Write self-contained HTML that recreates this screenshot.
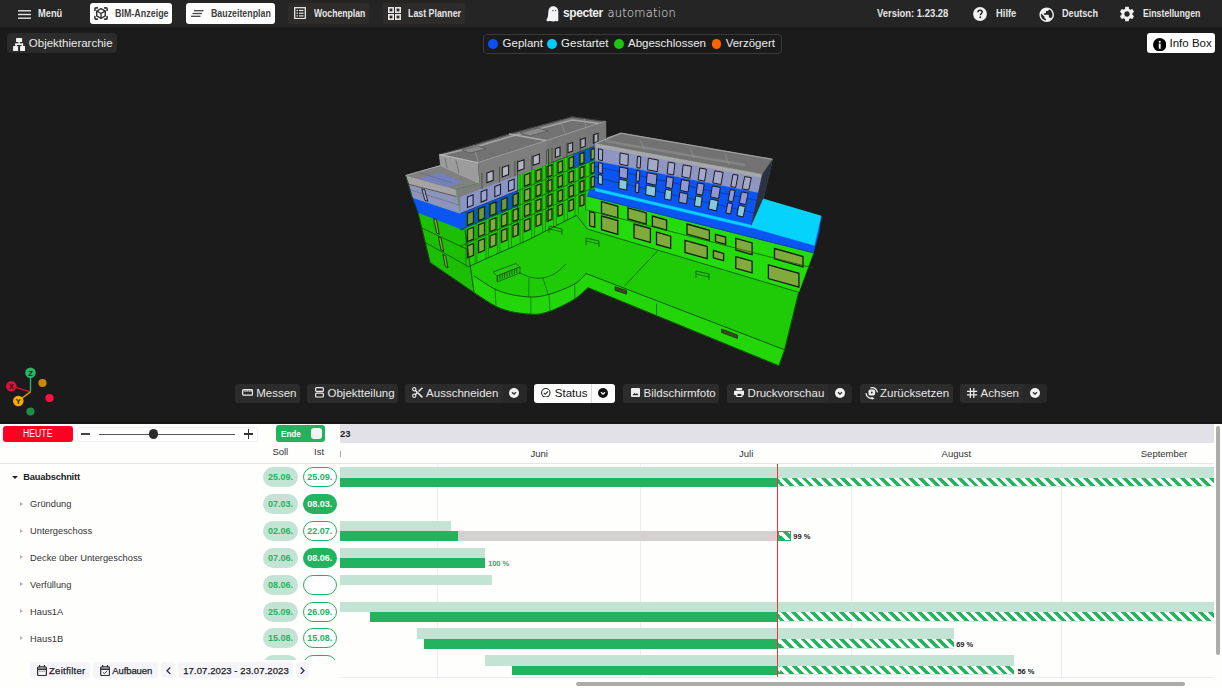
<!DOCTYPE html>
<html><head><meta charset="utf-8">
<style>
*{box-sizing:border-box;margin:0;padding:0}
html,body{width:1222px;height:688px;overflow:hidden;background:#1b1b1b;font-family:"Liberation Sans",Arial,sans-serif}
.a{position:absolute}
.t{position:absolute;white-space:nowrap;line-height:1}
#top{position:absolute;left:0;top:0;width:1222px;height:27px;background:#252525}
.tb{position:absolute;top:3px;height:20.5px;border-radius:3px}
.tb.w{background:#fff}
.tb.d{background:#2d2c2b}
.tt{font-size:10px;font-weight:bold;color:#e6e6e6;transform-origin:0 0}
.tb.w .tt{color:#404040}
.vb{position:absolute;top:384px;height:19px;border-radius:3px;background:#2c2c2c}
.vt{font-size:11.5px;color:#e8e8e8}
.dd{position:absolute;top:384px;height:19px;background:#282828;border-radius:0 3px 3px 0}
.ddc{position:absolute;width:10px;height:10px;border-radius:50%;background:#f2f2f2}
#gantt{position:absolute;left:0;top:423px;width:1222px;height:265px;background:#fefefd}
.pill{position:absolute;width:34.3px;height:20px;border-radius:10px;font-size:9px;font-weight:bold;text-align:center;line-height:20px}
.ps{background:#c3e4d5;color:#23b35f}
.po{background:#fff;border:1.3px solid #23b35f;color:#23b35f;line-height:18.8px}
.pf{background:#23b35f;color:#fff}
.lbl{position:absolute;font-size:9.3px;color:#333;white-space:nowrap;line-height:1}
.bl{position:absolute;height:10.5px;background:#c3e4d5}
.bd{position:absolute;height:9.7px;background:#23b35f}
.bs{position:absolute;height:9.7px;background:repeating-linear-gradient(45deg,#23b35f 0 3.43px,#fff 3.43px 6.86px);background-position:2.2px 0;border-bottom:1px solid #d4ece2}
.bg{position:absolute;height:9.7px;background:#d2d1d0}
.pct{position:absolute;font-size:7.5px;font-weight:bold;color:#222;line-height:1;white-space:nowrap}
.ml{font-size:9.5px;color:#333}
.bb{position:absolute;top:662.4px;height:15.6px;border-radius:3px;background:#f4f4fa}
.bt{font-size:9.5px;font-weight:normal;color:#222;-webkit-text-stroke:0.25px #222}
</style></head><body>

<!-- TOP BAR -->
<div id="top">
  <svg class="a" style="left:18px;top:9.5px" width="13" height="9" viewBox="0 0 13 9"><g stroke="#e6e6e6" stroke-width="1.4"><line x1="0" y1="0.8" x2="13" y2="0.8"/><line x1="0" y1="4.5" x2="13" y2="4.5"/><line x1="0" y1="8.2" x2="13" y2="8.2"/></g></svg>
  <div class="t tt" style="left:38px;top:8.9px;transform:scaleX(0.931)">Menü</div>

  <div class="tb w" style="left:89.5px;width:82.5px"></div>
  <svg class="a" style="left:94px;top:6.8px" width="14" height="13" viewBox="0 0 14 13" fill="none" stroke="#333" stroke-linecap="round" stroke-linejoin="round"><path d="M0.9 3.4V1.8Q0.9 0.9 1.8 0.9H3.4M10.6 0.9H12.2Q13.1 0.9 13.1 1.8V3.4M13.1 9.6V11.2Q13.1 12.1 12.2 12.1H10.6M3.4 12.1H1.8Q0.9 12.1 0.9 11.2V9.6" stroke-width="1.6"/><path d="M7 1.7L11.3 4.1V8.9L7 11.3L2.7 8.9V4.1Z" stroke-width="1.5"/><path d="M2.9 4.2L7 6.5L11.1 4.2M7 6.5V11" stroke-width="1.4"/></svg>
  <div class="t tt" style="left:115px;top:8.9px;transform:scaleX(0.893);color:#404040">BIM-Anzeige</div>

  <div class="tb w" style="left:185.7px;width:89px"></div>
  <svg class="a" style="left:191px;top:10px" width="13" height="7" viewBox="0 0 13 7" stroke="#444" stroke-width="1.3"><line x1="3" y1="0.7" x2="12.5" y2="0.7"/><line x1="1.5" y1="3.5" x2="11" y2="3.5"/><line x1="0" y1="6.3" x2="9.5" y2="6.3"/></svg>
  <div class="t tt" style="left:211px;top:8.9px;transform:scaleX(0.882);color:#404040">Bauzeitenplan</div>

  <div class="tb d" style="left:288.2px;width:80.6px"></div>
  <svg class="a" style="left:294px;top:7.2px" width="12" height="12.3" viewBox="0 0 12 12.3" fill="none" stroke="#e6e6e6" stroke-width="1.3"><rect x="0.7" y="0.7" width="10.6" height="10.9"/><g stroke-width="1.2"><line x1="2.5" y1="3.5" x2="4" y2="3.5"/><line x1="5" y1="3.5" x2="9.5" y2="3.5"/><line x1="2.5" y1="6.2" x2="4" y2="6.2"/><line x1="5" y1="6.2" x2="9.5" y2="6.2"/><line x1="2.5" y1="8.9" x2="4" y2="8.9"/><line x1="5" y1="8.9" x2="9.5" y2="8.9"/></g></svg>
  <div class="t tt" style="left:313.5px;top:8.9px;transform:scaleX(0.867)">Wochenplan</div>

  <div class="tb d" style="left:382.8px;width:81.8px"></div>
  <svg class="a" style="left:388px;top:7px" width="13" height="13" viewBox="0 0 13 13" fill="none" stroke="#e6e6e6" stroke-width="1.6"><rect x="0.8" y="0.8" width="4.4" height="4.4"/><rect x="7.8" y="0.8" width="4.4" height="4.4"/><rect x="0.8" y="7.8" width="4.4" height="4.4"/><rect x="7.8" y="7.8" width="4.4" height="4.4"/></svg>
  <div class="t tt" style="left:408px;top:8.9px;transform:scaleX(0.883)">Last Planner</div>

  <!-- logo -->
  <svg class="a" style="left:545.5px;top:5.5px" width="13" height="16" viewBox="0 0 13 16"><path d="M7.2 0.3C10.3 0.3 12.3 2.6 12.3 5.6V14.2C12.3 15 11.3 15.6 10.4 15.2C9.3 14.7 8.4 15.4 7.3 15.5C5.8 15.7 4.7 14.6 3.2 15.1C2 15.5 0.6 15.2 0.5 14.3C0.4 13.4 1.3 12.5 1.6 11.5C2.2 9.5 2.2 7 2.4 5.2C2.6 2.4 4.4 0.3 7.2 0.3Z" fill="#f4f4f6"/><circle cx="6.9" cy="4.6" r="0.7" fill="#333"/><circle cx="9.5" cy="4.6" r="0.7" fill="#333"/></svg>
  <div class="t" style="left:563px;top:7.2px;font-size:12px;font-weight:bold;color:#f0f0f0;letter-spacing:-0.4px">specter</div>
  <div class="t" style="left:607.6px;top:8.4px;font-size:11.5px;font-family:'DejaVu Sans',sans-serif;font-weight:200;color:#ececec;letter-spacing:0.22px">automation</div>

  <div class="t tt" style="left:876.5px;top:8.9px;transform:scaleX(0.943)">Version: 1.23.28</div>
  <svg class="a" style="left:973.4px;top:6.8px" width="14" height="14" viewBox="0 0 14 14"><circle cx="7" cy="7" r="6.9" fill="#f2f2f2"/><path d="M4.9 5.3C4.9 4 5.9 3.2 7.1 3.2C8.3 3.2 9.2 4 9.2 5.1C9.2 6.5 7.4 6.6 7.4 8.2" stroke="#232323" stroke-width="1.5" fill="none"/><circle cx="7.3" cy="10.3" r="0.95" fill="#232323"/></svg>
  <div class="t tt" style="left:996.3px;top:8.9px;transform:scaleX(0.938)">Hilfe</div>
  <svg class="a" style="left:1038px;top:5.5px" width="17.4" height="17.4" viewBox="0 0 24 24"><path fill="#f0f0f0" d="M12 2C6.48 2 2 6.48 2 12s4.48 10 10 10 10-4.48 10-10S17.52 2 12 2zm-1 17.93c-3.95-.49-7-3.85-7-7.93 0-.62.08-1.21.21-1.79L9 15v1c0 1.1.9 2 2 2v1.93zm6.9-2.54c-.26-.81-1-1.39-1.9-1.39h-1v-3c0-.55-.45-1-1-1H8v-2h2c.55 0 1-.45 1-1V7h2c1.1 0 2-.9 2-2v-.41c2.93 1.19 5 4.06 5 7.41 0 2.08-.8 3.97-2.1 5.39z"/></svg>
  <div class="t tt" style="left:1062.2px;top:8.9px;transform:scaleX(0.911)">Deutsch</div>
  <svg class="a" style="left:1118.2px;top:5.1px" width="18" height="18" viewBox="0 0 24 24"><path fill="#f0f0f0" d="M19.14 12.94c.04-.3.06-.61.06-.94 0-.32-.02-.64-.07-.94l2.03-1.58c.18-.14.23-.41.12-.61l-1.92-3.32c-.12-.22-.37-.29-.59-.22l-2.39.96c-.5-.38-1.03-.7-1.62-.94l-.36-2.54c-.04-.24-.24-.41-.48-.41h-3.84c-.24 0-.43.17-.47.41l-.36 2.54c-.59.24-1.13.57-1.62.94l-2.39-.96c-.22-.08-.47 0-.59.22L2.74 8.87c-.12.21-.08.47.12.61l2.03 1.58c-.05.3-.09.63-.09.94s.02.64.07.94l-2.03 1.58c-.18.14-.23.41-.12.61l1.92 3.32c.12.22.37.29.59.22l2.39-.96c.5.38 1.03.7 1.62.94l.36 2.54c.05.24.24.41.48.41h3.84c.24 0 .44-.17.47-.41l.36-2.54c.59-.24 1.13-.56 1.62-.94l2.39.96c.22.08.47 0 .59-.22l1.92-3.32c.12-.22.07-.47-.12-.61l-2.01-1.58zM12 15.6c-1.98 0-3.6-1.62-3.6-3.6s1.62-3.6 3.6-3.6 3.6 1.62 3.6 3.6-1.62 3.6-3.6 3.6z"/></svg>
  <div class="t tt" style="left:1143px;top:8.9px;transform:scaleX(0.875)">Einstellungen</div>
</div>

<!-- ROW 2 -->
<div class="a" style="left:7px;top:33.4px;width:110px;height:19.8px;background:#2b2b2b;border-radius:4px"></div>
<svg class="a" style="left:12.8px;top:37.8px" width="12.4" height="13.6" viewBox="0 0 12.4 13.6" fill="#f4f4f4"><rect x="3.05" y="0" width="6.1" height="4.05" rx="0.5"/><rect x="0.1" y="8.1" width="5" height="5.3" rx="0.5"/><rect x="7.1" y="8.1" width="5" height="5.3" rx="0.5"/><rect x="5.4" y="3.8" width="1.5" height="2"/><rect x="2.3" y="5.4" width="7.8" height="1.6"/><rect x="2.3" y="5.4" width="1.5" height="3"/><rect x="8.6" y="5.4" width="1.5" height="3"/></svg>
<div class="t" style="left:28.8px;top:38.2px;font-size:11.5px;color:#ececec">Objekthierarchie</div>

<div class="a" style="left:482.6px;top:33.5px;width:299px;height:20.5px;border:1px solid #3a3a3a;border-radius:4px"></div>
<div class="a" style="left:488.2px;top:39px;width:9.8px;height:9.8px;border-radius:50%;background:#0a50f5"></div>
<div class="t" style="left:502.6px;top:38.2px;font-size:11.5px;color:#ececec">Geplant</div>
<div class="a" style="left:547.1px;top:39px;width:9.8px;height:9.8px;border-radius:50%;background:#00cdfa"></div>
<div class="t" style="left:561.1px;top:38.2px;font-size:11.5px;color:#ececec">Gestartet</div>
<div class="a" style="left:614.1px;top:39px;width:9.8px;height:9.8px;border-radius:50%;background:#1ec410"></div>
<div class="t" style="left:628px;top:38.2px;font-size:11.5px;color:#ececec">Abgeschlossen</div>
<div class="a" style="left:711.5px;top:39px;width:9.8px;height:9.8px;border-radius:50%;background:#fb6400"></div>
<div class="t" style="left:725.7px;top:38.2px;font-size:11.5px;color:#ececec">Verzögert</div>

<div class="a" style="left:1147.2px;top:33.4px;width:68px;height:19.7px;background:#fff;border-radius:3px"></div>
<svg class="a" style="left:1152.6px;top:37.9px" width="13.4" height="13.4" viewBox="0 0 14 14"><circle cx="7" cy="7" r="7" fill="#000"/><rect x="6" y="5.8" width="2" height="5.4" fill="#fff"/><circle cx="7" cy="3.9" r="1.1" fill="#fff"/></svg>
<div class="t" style="left:1169.5px;top:38.3px;font-size:11.5px;color:#111">Info Box</div>

<!-- BUILDING placeholder -->
<svg id="bld" class="a" style="left:0;top:0" width="1222" height="423" viewBox="0 0 1222 423">
<defs><linearGradient id="bgc" gradientUnits="userSpaceOnUse" x1="0" y1="0" x2="0" y2="423"><stop offset="0.455" stop-color="#858585"/><stop offset="0.455" stop-color="#1fcc08"/></linearGradient></defs>
<polygon points="405.7,175.5 440.6,165.5 439.3,154.5 473.3,145.0 509.0,134.0 572.0,116.8 606.0,121.5 606.5,137.5 620.8,133.1 772.8,159.3 763.3,199.0 821.0,216.0 815.0,240.0 812.0,252.0 804.0,276.6 798.7,292.3 784.6,349.8 778.9,365.8 587.9,287.6 586.5,288.9 584.6,290.8 582.3,292.9 579.6,295.3 576.7,297.6 573.4,299.8 569.6,302.0 565.3,304.3 560.6,306.6 555.8,308.8 551.3,310.7 547.2,312.1 543.7,313.1 540.7,313.8 537.8,314.2 535.0,314.3 531.9,314.2 528.3,314.0 524.2,313.6 519.7,313.1 515.0,312.4 510.2,311.4 505.4,310.1 500.7,308.5 495.9,306.3 490.7,303.4 485.5,300.2 480.7,297.0 476.7,294.4 473.8,292.5 460.0,283.0 430.2,262.6 418.0,212.5 412.3,197.4 408.5,184.2" fill="url(#bgc)"/>
<polygon points="576.5,197.0 587.3,194.4 587.3,229.0 576.5,215.3" fill="#1fc809" stroke="#1fc809" stroke-width="0.6" stroke-linejoin="round"/>
<polygon points="465.2,230.5 474.0,292.5 474.0,276.0 470.0,266.0" fill="#1fc809" stroke="#1fc809" stroke-width="0.6" stroke-linejoin="round"/>
<polygon points="470.0,266.0 528.0,240.0 576.5,215.3 587.3,229.0 798.7,292.3 784.6,349.8 586.0,273.5 584.9,274.6 583.6,276.2 581.9,278.0 579.9,280.0 577.6,282.0 574.8,283.8 571.4,285.6 567.5,287.5 563.1,289.4 558.6,291.1 554.2,292.7 550.1,294.0 546.4,295.0 542.9,295.8 539.5,296.5 536.0,296.9 532.3,297.0 528.3,296.9 523.8,296.5 519.0,295.9 514.0,295.1 508.9,294.0 503.9,292.6 499.2,291.0 494.5,288.9 489.6,286.1 484.8,283.1 480.4,280.2 476.7,277.7 474.0,276.0" fill="#1ecb06" stroke="#1ecb06" stroke-width="0.6" stroke-linejoin="round"/>
<polygon points="474.0,276.0 476.7,277.7 480.4,280.2 484.8,283.1 489.6,286.1 494.5,288.9 499.2,291.0 503.9,292.6 508.9,294.0 514.0,295.1 519.0,295.9 523.8,296.5 528.3,296.9 532.3,297.0 536.0,296.9 539.5,296.5 542.9,295.8 546.4,295.0 550.1,294.0 554.2,292.7 558.6,291.1 563.1,289.4 567.5,287.5 571.4,285.6 574.8,283.8 577.6,282.0 579.9,280.0 581.9,278.0 583.6,276.2 584.9,274.6 586.0,273.5 784.6,349.8 778.9,365.8 587.9,287.6 586.5,288.9 584.6,290.8 582.3,292.9 579.6,295.3 576.7,297.6 573.4,299.8 569.6,302.0 565.3,304.3 560.6,306.6 555.8,308.8 551.3,310.7 547.2,312.1 543.7,313.1 540.7,313.8 537.8,314.2 535.0,314.3 531.9,314.2 528.3,314.0 524.2,313.6 519.7,313.1 515.0,312.4 510.2,311.4 505.4,310.1 500.7,308.5 495.9,306.3 490.7,303.4 485.5,300.2 480.7,297.0 476.7,294.4 473.8,292.5" fill="#22d60a" stroke="#22d60a" stroke-width="0.6" stroke-linejoin="round"/>
<polygon points="430.2,262.6 418.0,212.5 465.2,230.5 474.0,292.5 460.0,283.0" fill="#1dbf06" stroke="#1dbf06" stroke-width="0.6" stroke-linejoin="round"/>
<polygon points="412.3,197.4 460.5,213.5 465.2,230.5 418.0,212.5" fill="#0a55f3" stroke="#0a55f3" stroke-width="0.6" stroke-linejoin="round"/>
<polygon points="408.5,184.2 456.5,196.5 460.5,213.5 412.3,197.4" fill="#8e95bd" stroke="#8e95bd" stroke-width="0.6" stroke-linejoin="round"/>
<polygon points="405.7,175.5 456.2,189.7 456.5,196.5 408.5,184.2" fill="#a4a4a4" stroke="#a4a4a4" stroke-width="0.6" stroke-linejoin="round"/>
<polyline points="405.7,175.5 456.2,189.7" fill="none" stroke="#c0c0c0" stroke-width="1" stroke-opacity="1"/>
<polyline points="408.5,184.2 456.5,196.5" fill="none" stroke="#3a3a3a" stroke-width="0.7" stroke-opacity="1"/>
<polyline points="421.8,228.0 467.9,249.7" fill="none" stroke="#124008" stroke-width="0.7" stroke-opacity="1"/>
<polyline points="425.3,242.6 470.5,267.7" fill="none" stroke="#124008" stroke-width="0.7" stroke-opacity="1"/>
<polygon points="433.6,218.4 436.4,219.5 439.3,234.3 436.6,233.0" fill="#7fae3c" stroke="#14260c" stroke-width="0.9"/>
<polygon points="438.4,236.8 441.1,238.1 443.7,251.3 441.0,249.9" fill="#7fae3c" stroke="#14260c" stroke-width="0.9"/>
<polygon points="442.9,254.3 445.6,255.8 448.0,268.0 445.3,266.3" fill="#7fae3c" stroke="#14260c" stroke-width="0.9"/>
<polygon points="421.8,188.9 424.7,189.7 427.8,201.3 424.9,200.3" fill="#a3a9cc" stroke="#1a1a1a" stroke-width="0.9"/>
<polyline points="411.0,190.0 459.0,205.0" fill="none" stroke="#5a5a6a" stroke-width="0.5" stroke-opacity="1"/>
<polygon points="405.7,175.5 440.6,165.5 480.0,183.5 456.2,189.7" fill="#808080" stroke="#808080" stroke-width="0.6" stroke-linejoin="round"/>
<polygon points="420.0,178.5 440.0,173.0 462.0,182.5 447.0,186.5" fill="#7282c0" stroke="#7282c0" stroke-width="0.6" stroke-linejoin="round"/>
<polyline points="405.7,175.5 440.6,165.5 480.0,183.5" fill="none" stroke="#a8a8a8" stroke-width="1" stroke-opacity="1"/>
<polyline points="418.0,172.0 452.0,183.0" fill="none" stroke="#666" stroke-width="0.6" stroke-opacity="1"/>
<polygon points="439.3,154.5 478.5,163.0 480.0,183.5 440.6,165.5" fill="#9c9c9c" stroke="#9c9c9c" stroke-width="0.6" stroke-linejoin="round"/>
<polyline points="439.3,154.5 478.5,163.0 480.0,183.5" fill="none" stroke="#2e2e2e" stroke-width="0.9" stroke-opacity="1"/>
<polyline points="445.0,158.0 447.0,168.0" fill="none" stroke="#555" stroke-width="0.6" stroke-opacity="1"/>
<polyline points="456.0,160.5 459.0,173.0" fill="none" stroke="#555" stroke-width="0.6" stroke-opacity="1"/>
<polygon points="439.3,154.5 473.3,145.0 509.0,134.0 572.0,116.8 606.0,121.5 547.2,140.7 478.5,163.0" fill="#727272" stroke="#727272" stroke-width="0.6" stroke-linejoin="round"/>
<polyline points="439.3,154.5 473.3,145.0 509.0,134.0 572.0,116.8 606.0,121.5" fill="none" stroke="#2a2a2a" stroke-width="0.8" stroke-opacity="1"/>
<polyline points="441.0,155.0 473.5,147.5 509.0,137.0 572.0,120.0 603.0,124.0" fill="none" stroke="#b0b0b0" stroke-width="1.4" stroke-opacity="0.8"/>
<polyline points="606.0,121.5 547.2,140.7 478.5,163.0 439.3,154.5" fill="none" stroke="#bdbdbd" stroke-width="1.5" stroke-opacity="0.9"/>
<polyline points="509.0,134.0 547.2,140.7" fill="none" stroke="#b0b0b0" stroke-width="1.4" stroke-opacity="0.9"/>
<polyline points="478.5,164.2 547.2,141.9 606.0,122.7" fill="none" stroke="#2a2a2a" stroke-width="0.8" stroke-opacity="1"/>
<polyline points="456.2,189.7 480.0,183.5" fill="none" stroke="#2a2a2a" stroke-width="0.8" stroke-opacity="1"/>
<polyline points="473.3,145.0 478.5,163.0" fill="none" stroke="#9a9a9a" stroke-width="0.8" stroke-opacity="1"/>
<polygon points="520.0,133.0 538.0,128.0 548.0,131.0 530.0,136.0" fill="#8a8a8a" stroke="#444" stroke-width="0.5"/>
<polygon points="462.0,150.0 478.0,146.0 486.0,149.0 470.0,153.0" fill="#8a8a8a" stroke="#444" stroke-width="0.5"/>
<polyline points="560.0,121.0 565.0,133.0" fill="none" stroke="#999" stroke-width="0.6" stroke-opacity="1"/>
<polyline points="584.0,118.0 586.0,128.0" fill="none" stroke="#999" stroke-width="0.6" stroke-opacity="1"/>
<polygon points="480.0,173.7 606.5,128.2 606.5,205.0 587.0,205.0 576.5,215.3 528.0,240.0 470.0,266.0 465.2,230.5 460.5,213.5 456.2,189.7 480.0,183.5" fill="#21d20a" stroke="#21d20a" stroke-width="0.6" stroke-linejoin="round"/>
<polygon points="456.2,189.7 480.0,183.5 478.5,163.0 547.2,140.7 548.5,163.7 517.6,175.4 517.6,190.7 460.5,213.5" fill="#7e7e7e" stroke="#7e7e7e" stroke-width="0.6" stroke-linejoin="round"/>
<polygon points="460.5,197.1 517.6,175.4 517.6,190.7 460.5,213.5" fill="#8a94c6" stroke="#8a94c6" stroke-width="0.6" stroke-linejoin="round"/>
<polygon points="460.5,213.5 517.6,190.7 517.6,205.9 460.5,229.9" fill="#0a55f3" stroke="#0a55f3" stroke-width="0.6" stroke-linejoin="round"/>
<polygon points="547.2,140.7 606.0,121.5 606.5,141.6 548.5,163.7" fill="#787878" stroke="#787878" stroke-width="0.6" stroke-linejoin="round"/>
<polygon points="573.0,154.4 594.0,146.4 594.0,160.1 573.0,168.5" fill="#0a55f3" stroke="#0a55f3" stroke-width="0.6" stroke-linejoin="round"/>
<polygon points="486.9,173.1 493.2,170.8 493.2,180.3 486.9,182.6" fill="#b3b6c2" stroke="#1d1d1d" stroke-width="1.1"/>
<polygon points="502.3,167.5 508.6,165.3 508.6,174.5 502.3,176.9" fill="#b3b6c2" stroke="#1d1d1d" stroke-width="1.1"/>
<polygon points="517.7,162.0 524.0,159.7 524.0,168.7 517.7,171.1" fill="#b3b6c2" stroke="#1d1d1d" stroke-width="1.1"/>
<polygon points="533.1,156.4 539.4,154.1 539.4,163.0 533.1,165.3" fill="#b3b6c2" stroke="#1d1d1d" stroke-width="1.1"/>
<polygon points="555.4,148.7 560.0,147.1 560.0,155.7 555.4,157.4" fill="#a9acb9" stroke="#1d1d1d" stroke-width="1.1"/>
<polygon points="568.0,144.1 572.6,142.5 572.6,151.0 568.0,152.7" fill="#a9acb9" stroke="#1d1d1d" stroke-width="1.1"/>
<polygon points="580.7,139.5 585.3,137.9 585.3,146.2 580.7,147.9" fill="#a9acb9" stroke="#1d1d1d" stroke-width="1.1"/>
<polygon points="593.4,135.0 598.0,133.3 598.0,141.5 593.4,143.2" fill="#a9acb9" stroke="#1d1d1d" stroke-width="1.1"/>
<polyline points="482.0,173.0 482.0,188.9" fill="none" stroke="#3a3a3a" stroke-width="0.7" stroke-opacity="1"/>
<polyline points="499.5,166.7 499.5,182.3" fill="none" stroke="#3a3a3a" stroke-width="0.7" stroke-opacity="1"/>
<polyline points="514.9,161.1 514.9,176.4" fill="none" stroke="#3a3a3a" stroke-width="0.7" stroke-opacity="1"/>
<polyline points="531.7,155.1 531.7,170.1" fill="none" stroke="#3a3a3a" stroke-width="0.7" stroke-opacity="1"/>
<polyline points="546.4,149.8 546.4,164.5" fill="none" stroke="#3a3a3a" stroke-width="0.7" stroke-opacity="1"/>
<polyline points="552.0,147.8 552.0,162.4" fill="none" stroke="#3a3a3a" stroke-width="0.7" stroke-opacity="1"/>
<polyline points="566.9,142.4 566.9,156.7" fill="none" stroke="#3a3a3a" stroke-width="0.7" stroke-opacity="1"/>
<polyline points="580.1,137.7 580.1,151.7" fill="none" stroke="#3a3a3a" stroke-width="0.7" stroke-opacity="1"/>
<polyline points="594.5,132.5 594.5,146.2" fill="none" stroke="#3a3a3a" stroke-width="0.7" stroke-opacity="1"/>
<polygon points="467.4,196.9 473.1,194.8 473.1,205.2 467.4,207.5" fill="#9aa3d4" stroke="#1d1d1d" stroke-width="1.1"/>
<polygon points="481.1,191.7 486.8,189.5 486.8,199.8 481.1,202.1" fill="#9aa3d4" stroke="#1d1d1d" stroke-width="1.1"/>
<polygon points="494.8,186.4 500.5,184.3 500.5,194.4 494.8,196.7" fill="#9aa3d4" stroke="#1d1d1d" stroke-width="1.1"/>
<polygon points="508.5,181.2 514.2,179.0 514.2,189.0 508.5,191.2" fill="#9aa3d4" stroke="#1d1d1d" stroke-width="1.1"/>
<polyline points="460.5,246.3 606.5,182.0" fill="none" stroke="#124a08" stroke-width="0.7" stroke-opacity="1"/>
<polyline points="460.5,229.9 606.5,168.6" fill="none" stroke="#124a08" stroke-width="0.7" stroke-opacity="1"/>
<polyline points="517.6,190.7 606.5,155.1" fill="none" stroke="#124a08" stroke-width="0.7" stroke-opacity="1"/>
<polyline points="548.5,163.7 606.5,141.6" fill="none" stroke="#124a08" stroke-width="0.7" stroke-opacity="1"/>
<polyline points="460.5,213.5 517.6,190.7" fill="none" stroke="#0a2a70" stroke-width="0.6" stroke-opacity="1"/>
<polygon points="467.5,245.8 473.5,243.4 473.5,255.4 467.5,257.8" fill="#7fae3c" stroke="#14260c" stroke-width="1.3"/>
<polygon points="467.5,229.5 473.5,227.1 473.5,239.2 467.5,241.6" fill="#7fae3c" stroke="#14260c" stroke-width="1.3"/>
<polygon points="467.5,213.3 473.5,210.9 473.5,222.9 467.5,225.3" fill="#6f9a3a" stroke="#14260c" stroke-width="1.3"/>
<polygon points="478.5,240.9 484.5,238.5 484.5,250.4 478.5,252.8" fill="#7fae3c" stroke="#14260c" stroke-width="1.3"/>
<polygon points="478.5,224.9 484.5,222.5 484.5,234.4 478.5,236.8" fill="#7fae3c" stroke="#14260c" stroke-width="1.3"/>
<polygon points="478.5,208.9 484.5,206.5 484.5,218.3 478.5,220.7" fill="#6f9a3a" stroke="#14260c" stroke-width="1.3"/>
<polygon points="490.0,235.8 496.0,233.4 496.0,245.1 490.0,247.5" fill="#7fae3c" stroke="#14260c" stroke-width="1.3"/>
<polygon points="490.0,220.0 496.0,217.6 496.0,229.3 490.0,231.7" fill="#7fae3c" stroke="#14260c" stroke-width="1.3"/>
<polygon points="490.0,204.2 496.0,201.8 496.0,213.5 490.0,215.9" fill="#6f9a3a" stroke="#14260c" stroke-width="1.3"/>
<polygon points="501.5,230.7 507.0,228.5 507.0,240.1 501.5,242.3" fill="#7fae3c" stroke="#14260c" stroke-width="1.3"/>
<polygon points="501.5,215.2 507.0,213.0 507.0,224.5 501.5,226.7" fill="#7fae3c" stroke="#14260c" stroke-width="1.3"/>
<polygon points="501.5,199.6 507.0,197.4 507.0,208.9 501.5,211.1" fill="#6f9a3a" stroke="#14260c" stroke-width="1.3"/>
<polygon points="513.0,225.6 518.5,223.4 518.5,234.8 513.0,237.0" fill="#7fae3c" stroke="#14260c" stroke-width="1.3"/>
<polygon points="513.0,210.3 518.5,208.1 518.5,219.4 513.0,221.6" fill="#7fae3c" stroke="#14260c" stroke-width="1.3"/>
<polygon points="513.0,195.0 518.5,192.8 518.5,204.1 513.0,206.3" fill="#6f9a3a" stroke="#14260c" stroke-width="1.3"/>
<polygon points="524.5,220.5 530.0,218.3 530.0,229.5 524.5,231.7" fill="#7fae3c" stroke="#14260c" stroke-width="1.3"/>
<polygon points="524.5,205.4 530.0,203.2 530.0,214.4 524.5,216.6" fill="#7fae3c" stroke="#14260c" stroke-width="1.3"/>
<polygon points="524.5,190.3 530.0,188.1 530.0,199.3 524.5,201.5" fill="#7fae3c" stroke="#14260c" stroke-width="1.3"/>
<polygon points="524.5,175.2 530.0,173.0 530.0,184.2 524.5,186.4" fill="#7fae3c" stroke="#14260c" stroke-width="1.3"/>
<polygon points="536.0,215.4 541.0,213.4 541.0,224.5 536.0,226.5" fill="#7fae3c" stroke="#14260c" stroke-width="1.3"/>
<polygon points="536.0,200.6 541.0,198.6 541.0,209.6 536.0,211.6" fill="#7fae3c" stroke="#14260c" stroke-width="1.3"/>
<polygon points="536.0,185.7 541.0,183.7 541.0,194.7 536.0,196.7" fill="#7fae3c" stroke="#14260c" stroke-width="1.3"/>
<polygon points="536.0,170.8 541.0,168.8 541.0,179.8 536.0,181.8" fill="#7fae3c" stroke="#14260c" stroke-width="1.3"/>
<polygon points="547.0,210.6 552.0,208.6 552.0,219.4 547.0,221.4" fill="#7fae3c" stroke="#14260c" stroke-width="1.3"/>
<polygon points="547.0,195.9 552.0,193.9 552.0,204.8 547.0,206.8" fill="#7fae3c" stroke="#14260c" stroke-width="1.3"/>
<polygon points="547.0,181.2 552.0,179.2 552.0,190.1 547.0,192.1" fill="#7fae3c" stroke="#14260c" stroke-width="1.3"/>
<polygon points="547.0,166.6 552.0,164.6 552.0,175.4 547.0,177.4" fill="#7fae3c" stroke="#14260c" stroke-width="1.3"/>
<polygon points="558.0,205.7 562.5,203.9 562.5,214.6 558.0,216.4" fill="#7fae3c" stroke="#14260c" stroke-width="1.3"/>
<polygon points="558.0,191.3 562.5,189.5 562.5,200.1 558.0,201.9" fill="#7fae3c" stroke="#14260c" stroke-width="1.3"/>
<polygon points="558.0,176.8 562.5,175.0 562.5,185.7 558.0,187.5" fill="#7fae3c" stroke="#14260c" stroke-width="1.3"/>
<polygon points="558.0,162.4 562.5,160.6 562.5,171.3 558.0,173.1" fill="#7fae3c" stroke="#14260c" stroke-width="1.3"/>
<polygon points="569.0,200.8 573.5,199.0 573.5,209.5 569.0,211.3" fill="#7fae3c" stroke="#14260c" stroke-width="1.3"/>
<polygon points="569.0,186.6 573.5,184.8 573.5,195.3 569.0,197.1" fill="#7fae3c" stroke="#14260c" stroke-width="1.3"/>
<polygon points="569.0,172.4 573.5,170.6 573.5,181.1 569.0,182.9" fill="#7fae3c" stroke="#14260c" stroke-width="1.3"/>
<polygon points="569.0,158.2 573.5,156.4 573.5,166.9 569.0,168.7" fill="#7fae3c" stroke="#14260c" stroke-width="1.3"/>
<polygon points="580.0,195.9 584.0,194.3 584.0,204.7 580.0,206.3" fill="#7fae3c" stroke="#14260c" stroke-width="1.3"/>
<polygon points="580.0,181.9 584.0,180.3 584.0,190.7 580.0,192.3" fill="#7fae3c" stroke="#14260c" stroke-width="1.3"/>
<polygon points="580.0,167.9 584.0,166.3 584.0,176.7 580.0,178.3" fill="#7fae3c" stroke="#14260c" stroke-width="1.3"/>
<polygon points="580.0,153.9 584.0,152.3 584.0,162.7 580.0,164.3" fill="#7fae3c" stroke="#14260c" stroke-width="1.3"/>
<polygon points="591.0,191.1 594.5,189.7 594.5,199.9 591.0,201.3" fill="#7fae3c" stroke="#14260c" stroke-width="1.3"/>
<polygon points="591.0,177.3 594.5,175.9 594.5,186.1 591.0,187.5" fill="#7fae3c" stroke="#14260c" stroke-width="1.3"/>
<polygon points="591.0,163.5 594.5,162.1 594.5,172.3 591.0,173.7" fill="#7fae3c" stroke="#14260c" stroke-width="1.3"/>
<polygon points="591.0,149.7 594.5,148.3 594.5,158.5 591.0,159.9" fill="#7fae3c" stroke="#14260c" stroke-width="1.3"/>
<polygon points="600.0,187.1 603.0,185.9 603.0,195.9 600.0,197.1" fill="#7fae3c" stroke="#14260c" stroke-width="1.3"/>
<polygon points="600.0,173.5 603.0,172.3 603.0,182.3 600.0,183.5" fill="#7fae3c" stroke="#14260c" stroke-width="1.3"/>
<polygon points="600.0,159.9 603.0,158.7 603.0,168.7 600.0,169.9" fill="#7fae3c" stroke="#14260c" stroke-width="1.3"/>
<polygon points="600.0,146.3 603.0,145.1 603.0,155.1 600.0,156.3" fill="#7fae3c" stroke="#14260c" stroke-width="1.3"/>
<polyline points="465.9,211.3 465.9,267.8" fill="none" stroke="#156a0a" stroke-width="0.6" stroke-opacity="1"/>
<polyline points="475.1,207.7 475.1,263.7" fill="none" stroke="#156a0a" stroke-width="0.6" stroke-opacity="1"/>
<polyline points="476.9,206.9 476.9,262.9" fill="none" stroke="#156a0a" stroke-width="0.6" stroke-opacity="1"/>
<polyline points="486.1,203.3 486.1,258.8" fill="none" stroke="#156a0a" stroke-width="0.6" stroke-opacity="1"/>
<polyline points="488.4,202.3 488.4,257.8" fill="none" stroke="#156a0a" stroke-width="0.6" stroke-opacity="1"/>
<polyline points="497.6,198.7 497.6,253.6" fill="none" stroke="#156a0a" stroke-width="0.6" stroke-opacity="1"/>
<polyline points="499.9,197.7 499.9,252.6" fill="none" stroke="#156a0a" stroke-width="0.6" stroke-opacity="1"/>
<polyline points="508.6,194.3 508.6,248.7" fill="none" stroke="#156a0a" stroke-width="0.6" stroke-opacity="1"/>
<polyline points="511.4,193.1 511.4,247.4" fill="none" stroke="#156a0a" stroke-width="0.6" stroke-opacity="1"/>
<polyline points="520.1,174.5 520.1,243.5" fill="none" stroke="#156a0a" stroke-width="0.6" stroke-opacity="1"/>
<polyline points="522.9,173.4 522.9,242.3" fill="none" stroke="#156a0a" stroke-width="0.6" stroke-opacity="1"/>
<polyline points="531.6,170.1 531.6,238.2" fill="none" stroke="#156a0a" stroke-width="0.6" stroke-opacity="1"/>
<polyline points="534.4,169.0 534.4,236.7" fill="none" stroke="#156a0a" stroke-width="0.6" stroke-opacity="1"/>
<polyline points="542.6,165.9 542.6,232.6" fill="none" stroke="#156a0a" stroke-width="0.6" stroke-opacity="1"/>
<polyline points="545.4,164.8 545.4,231.1" fill="none" stroke="#156a0a" stroke-width="0.6" stroke-opacity="1"/>
<polyline points="553.6,161.7 553.6,227.0" fill="none" stroke="#156a0a" stroke-width="0.6" stroke-opacity="1"/>
<polyline points="556.4,160.7 556.4,225.5" fill="none" stroke="#156a0a" stroke-width="0.6" stroke-opacity="1"/>
<polyline points="564.1,157.7 564.1,221.6" fill="none" stroke="#156a0a" stroke-width="0.6" stroke-opacity="1"/>
<polyline points="567.4,156.5 567.4,219.9" fill="none" stroke="#156a0a" stroke-width="0.6" stroke-opacity="1"/>
<polyline points="575.1,153.6 575.1,216.0" fill="none" stroke="#156a0a" stroke-width="0.6" stroke-opacity="1"/>
<polyline points="578.4,152.3 578.4,214.3" fill="none" stroke="#156a0a" stroke-width="0.6" stroke-opacity="1"/>
<polyline points="585.6,149.6 585.6,210.7" fill="none" stroke="#156a0a" stroke-width="0.6" stroke-opacity="1"/>
<polyline points="589.4,148.1 589.4,208.7" fill="none" stroke="#156a0a" stroke-width="0.6" stroke-opacity="1"/>
<polyline points="596.1,145.6 596.1,205.3" fill="none" stroke="#156a0a" stroke-width="0.6" stroke-opacity="1"/>
<polyline points="598.4,144.7 598.4,204.1" fill="none" stroke="#156a0a" stroke-width="0.6" stroke-opacity="1"/>
<polyline points="517.6,160.2 517.6,236.0" fill="none" stroke="#143a0a" stroke-width="0.7" stroke-opacity="1"/>
<polyline points="548.5,149.0 548.5,222.0" fill="none" stroke="#143a0a" stroke-width="0.8" stroke-opacity="1"/>
<polyline points="606.5,121.5 606.5,200.0" fill="none" stroke="#222" stroke-width="0.8" stroke-opacity="1"/>
<polygon points="587.3,194.4 813.4,252.8 798.7,292.3 587.3,229.0" fill="#24dc0c" stroke="#24dc0c" stroke-width="0.6" stroke-linejoin="round"/>
<polygon points="601.5,201.7 617.8,206.3 617.8,218.0 601.5,213.4" fill="#80aa3c" stroke="#1a1a1a" stroke-width="1.3"/>
<polygon points="628.0,207.8 646.3,212.9 646.3,224.1 628.0,219.0" fill="#80aa3c" stroke="#1a1a1a" stroke-width="1.3"/>
<polygon points="652.4,216.0 666.6,220.0 666.6,230.2 652.4,226.2" fill="#80aa3c" stroke="#1a1a1a" stroke-width="1.3"/>
<polygon points="687.0,224.0 709.4,230.3 709.4,240.4 687.0,234.1" fill="#80aa3c" stroke="#1a1a1a" stroke-width="1.3"/>
<polygon points="715.5,234.3 725.6,237.1 725.6,244.4 715.5,241.6" fill="#80aa3c" stroke="#1a1a1a" stroke-width="1.3"/>
<polygon points="735.8,238.3 752.1,242.9 752.1,254.6 735.8,250.0" fill="#80aa3c" stroke="#1a1a1a" stroke-width="1.3"/>
<polygon points="774.5,248.5 803.0,256.5 803.0,266.8 774.5,258.8" fill="#80aa3c" stroke="#1a1a1a" stroke-width="1.3"/>
<polygon points="601.5,216.0 617.8,220.6 617.8,234.3 601.5,229.7" fill="#80aa3c" stroke="#1a1a1a" stroke-width="1.3"/>
<polygon points="634.0,224.0 650.4,228.6 650.4,242.4 634.0,237.8" fill="#80aa3c" stroke="#1a1a1a" stroke-width="1.3"/>
<polygon points="656.5,232.2 670.7,236.2 670.7,248.5 656.5,244.5" fill="#80aa3c" stroke="#1a1a1a" stroke-width="1.3"/>
<polygon points="685.0,240.4 707.3,246.6 707.3,258.7 685.0,252.5" fill="#80aa3c" stroke="#1a1a1a" stroke-width="1.3"/>
<polygon points="713.4,250.5 723.6,253.4 723.6,260.7 713.4,257.8" fill="#80aa3c" stroke="#1a1a1a" stroke-width="1.3"/>
<polygon points="735.8,256.6 752.1,261.2 752.1,272.9 735.8,268.3" fill="#80aa3c" stroke="#1a1a1a" stroke-width="1.3"/>
<polygon points="768.4,264.8 798.9,273.3 798.9,287.1 768.4,278.6" fill="#80aa3c" stroke="#1a1a1a" stroke-width="1.3"/>
<polygon points="589.6,211.5 594.7,212.9 594.7,227.2 589.6,225.8" fill="#80aa3c" stroke="#1a1a1a" stroke-width="1.3"/>
<polyline points="587.3,210.0 813.0,268.0" fill="none" stroke="#155a08" stroke-width="0.8" stroke-opacity="1"/>
<polygon points="590.0,189.4 751.0,226.4 814.3,245.3 821.0,216.0 819.0,232.0 813.4,252.8 587.3,196.0" fill="#0a55f3" stroke="#0a55f3" stroke-width="0.6" stroke-linejoin="round"/>
<polyline points="587.3,196.0 813.4,252.8" fill="none" stroke="#0a2a80" stroke-width="0.6" stroke-opacity="1"/>
<polygon points="595.2,143.6 762.4,174.4 751.0,226.4 595.2,189.4" fill="#0a55f3" stroke="#0a55f3" stroke-width="0.6" stroke-linejoin="round"/>
<polygon points="595.2,146.2 762.4,176.5 758.6,192.4 595.2,160.6" fill="#8f96c2" stroke="#8f96c2" stroke-width="0.6" stroke-linejoin="round"/>
<polygon points="595.2,143.6 620.8,133.1 772.8,159.3 762.4,174.4" fill="#727272" stroke="#727272" stroke-width="0.6" stroke-linejoin="round"/>
<polyline points="595.2,143.6 620.8,133.1 772.8,159.3" fill="none" stroke="#a8a8a8" stroke-width="1.2" stroke-opacity="0.85"/>
<polyline points="605.0,141.0 745.0,165.0" fill="none" stroke="#8c8c8c" stroke-width="2.5" stroke-opacity="0.7"/>
<polyline points="640.0,140.0 645.0,150.0" fill="none" stroke="#999" stroke-width="0.6" stroke-opacity="1"/>
<polyline points="690.0,148.0 694.0,158.0" fill="none" stroke="#999" stroke-width="0.6" stroke-opacity="1"/>
<polyline points="725.0,154.0 729.0,165.0" fill="none" stroke="#999" stroke-width="0.6" stroke-opacity="1"/>
<polygon points="595.2,143.6 762.4,174.4 762.4,177.5 595.2,146.8" fill="#a8a8a8" stroke="#a8a8a8" stroke-width="0.6" stroke-linejoin="round"/>
<polyline points="595.2,166.5 756.7,200.4" fill="none" stroke="#0a2a80" stroke-width="0.6" stroke-opacity="1"/>
<polyline points="595.2,177.5 754.0,212.9" fill="none" stroke="#0a2a80" stroke-width="0.6" stroke-opacity="1"/>
<polygon points="772.8,159.3 762.4,174.4 751.0,226.4 763.3,199.0" fill="#2b3142" stroke="#2b3142" stroke-width="0.6" stroke-linejoin="round"/>
<polygon points="595.2,188.2 751.0,225.2 751.0,227.8 595.2,190.8" fill="#05d3fc" stroke="#05d3fc" stroke-width="0.6" stroke-linejoin="round"/>
<polygon points="763.3,199.0 821.0,216.0 814.3,245.3 751.0,227.3" fill="#05d3fc" stroke="#05d3fc" stroke-width="0.6" stroke-linejoin="round"/>
<polygon points="598.5,148.8 602.7,149.6 602.5,160.7 598.5,159.8" fill="#a4a8c8" stroke="#1a1a1a" stroke-width="1"/>
<polygon points="598.5,162.6 602.5,163.4 602.4,173.6 598.4,172.7" fill="#8d97d0" stroke="#1a1a1a" stroke-width="1"/>
<polygon points="598.4,174.5 602.4,175.4 602.3,184.6 598.3,183.7" fill="#86c9d9" stroke="#1a1a1a" stroke-width="1"/>
<polygon points="620.1,152.9 628.4,154.5 627.9,165.8 619.7,164.1" fill="#a4a8c8" stroke="#1a1a1a" stroke-width="1"/>
<polygon points="619.6,166.9 627.7,168.6 627.2,178.9 619.2,177.2" fill="#8d97d0" stroke="#1a1a1a" stroke-width="1"/>
<polygon points="619.2,179.1 627.1,180.8 626.7,190.2 618.8,188.4" fill="#86c9d9" stroke="#1a1a1a" stroke-width="1"/>
<polygon points="637.5,156.2 640.9,156.8 640.1,168.2 636.8,167.6" fill="#a4a8c8" stroke="#1a1a1a" stroke-width="1"/>
<polygon points="636.7,170.4 639.9,171.1 639.2,181.5 636.0,180.8" fill="#8d97d0" stroke="#1a1a1a" stroke-width="1"/>
<polygon points="635.9,182.7 639.1,183.4 638.5,192.9 635.3,192.2" fill="#8d97d0" stroke="#1a1a1a" stroke-width="1"/>
<polygon points="648.3,158.2 658.3,160.1 657.3,171.7 647.5,169.7" fill="#a4a8c8" stroke="#1a1a1a" stroke-width="1"/>
<polygon points="647.2,172.6 657.0,174.6 656.1,185.2 646.4,183.1" fill="#8d97d0" stroke="#1a1a1a" stroke-width="1"/>
<polygon points="646.3,185.0 655.9,187.1 655.0,196.7 645.6,194.6" fill="#86c9d9" stroke="#1a1a1a" stroke-width="1"/>
<polygon points="668.3,162.0 674.9,163.3 673.6,175.0 667.1,173.7" fill="#a4a8c8" stroke="#1a1a1a" stroke-width="1"/>
<polygon points="666.8,176.6 673.3,177.9 672.1,188.6 665.7,187.2" fill="#8d97d0" stroke="#1a1a1a" stroke-width="1"/>
<polygon points="665.5,189.2 671.8,190.6 670.8,200.3 664.5,198.9" fill="#86c9d9" stroke="#1a1a1a" stroke-width="1"/>
<polygon points="683.2,164.8 691.5,166.4 689.9,178.3 681.8,176.6" fill="#a4a8c8" stroke="#1a1a1a" stroke-width="1"/>
<polygon points="681.4,179.6 689.5,181.2 688.1,192.1 680.1,190.4" fill="#8d97d0" stroke="#1a1a1a" stroke-width="1"/>
<polygon points="679.8,192.3 687.8,194.1 686.5,203.9 678.6,202.1" fill="#8d97d0" stroke="#1a1a1a" stroke-width="1"/>
<polygon points="699.8,168.0 706.5,169.2 704.6,181.2 698.1,179.9" fill="#a4a8c8" stroke="#1a1a1a" stroke-width="1"/>
<polygon points="697.7,182.9 704.2,184.2 702.5,195.2 696.1,193.8" fill="#8d97d0" stroke="#1a1a1a" stroke-width="1"/>
<polygon points="695.8,195.8 702.2,197.2 700.7,207.2 694.4,205.8" fill="#86c9d9" stroke="#1a1a1a" stroke-width="1"/>
<polygon points="714.8,170.8 723.1,172.4 721.0,184.5 712.8,182.9" fill="#a4a8c8" stroke="#1a1a1a" stroke-width="1"/>
<polygon points="712.3,185.9 720.4,187.5 718.5,198.7 710.5,196.9" fill="#8d97d0" stroke="#1a1a1a" stroke-width="1"/>
<polygon points="710.2,199.0 718.2,200.7 716.4,210.8 708.5,209.0" fill="#86c9d9" stroke="#1a1a1a" stroke-width="1"/>
<polygon points="733.0,174.3 738.0,175.2 735.7,187.5 730.8,186.5" fill="#a4a8c8" stroke="#1a1a1a" stroke-width="1"/>
<polygon points="730.2,189.5 735.1,190.5 732.9,201.8 728.1,200.8" fill="#8d97d0" stroke="#1a1a1a" stroke-width="1"/>
<polygon points="727.7,202.8 732.5,203.8 730.6,214.1 725.8,213.0" fill="#8d97d0" stroke="#1a1a1a" stroke-width="1"/>
<polygon points="744.7,176.5 751.3,177.7 748.7,190.1 742.2,188.8" fill="#a4a8c8" stroke="#1a1a1a" stroke-width="1"/>
<polygon points="741.6,191.9 748.1,193.2 745.7,204.6 739.3,203.2" fill="#8d97d0" stroke="#1a1a1a" stroke-width="1"/>
<polygon points="738.9,205.2 745.3,206.6 743.2,217.0 736.9,215.5" fill="#86c9d9" stroke="#1a1a1a" stroke-width="1"/>
<polyline points="405.7,175.5 408.5,184.2 412.3,197.4 418.0,212.5 430.2,262.6 460.0,283.0 473.8,292.5" fill="none" stroke="#0e2e06" stroke-width="0.8" stroke-opacity="1"/>
<polyline points="473.8,292.5 476.7,294.4 480.7,297.0 485.5,300.2 490.7,303.4 495.9,306.3 500.7,308.5 505.4,310.1 510.2,311.4 515.0,312.4 519.7,313.1 524.2,313.6 528.3,314.0 531.9,314.2 535.0,314.3 537.8,314.2 540.7,313.8 543.7,313.1 547.2,312.1 551.3,310.7 555.8,308.8 560.6,306.6 565.3,304.3 569.6,302.0 573.4,299.8 576.7,297.6 579.6,295.3 582.3,292.9 584.6,290.8 586.5,288.9 587.9,287.6 778.9,365.8 784.6,349.8 798.7,292.3" fill="none" stroke="#0e3a06" stroke-width="0.9" stroke-opacity="1"/>
<polyline points="474.0,276.0 476.7,277.7 480.4,280.2 484.8,283.1 489.6,286.1 494.5,288.9 499.2,291.0 503.9,292.6 508.9,294.0 514.0,295.1 519.0,295.9 523.8,296.5 528.3,296.9 532.3,297.0 536.0,296.9 539.5,296.5 542.9,295.8 546.4,295.0 550.1,294.0 554.2,292.7 558.6,291.1 563.1,289.4 567.5,287.5 571.4,285.6 574.8,283.8 577.6,282.0 579.9,280.0 581.9,278.0 583.6,276.2 584.9,274.6 586.0,273.5 784.6,349.8" fill="none" stroke="#0e3a06" stroke-width="0.8" stroke-opacity="1"/>
<polyline points="470.0,266.0 528.0,240.0 576.5,215.3" fill="none" stroke="#0e3a06" stroke-width="0.8" stroke-opacity="1"/>
<polyline points="576.5,215.3 587.3,229.0 798.7,292.3" fill="none" stroke="#0e3a06" stroke-width="0.7" stroke-opacity="1"/>
<polyline points="474.0,292.5 465.2,230.5" fill="none" stroke="#0e3a06" stroke-width="0.8" stroke-opacity="1"/>
<polyline points="658.5,250.0 624.6,285.8" fill="none" stroke="#0e3a06" stroke-width="0.6" stroke-opacity="1"/>
<polyline points="656.6,303.6 656.6,315.0" fill="none" stroke="#0e3a06" stroke-width="0.6" stroke-opacity="1"/>
<polyline points="528.7,296.8 529.0,277.5" fill="none" stroke="#0e3a06" stroke-width="0.5" stroke-opacity="1"/>
<polyline points="548.3,294.5 542.8,278.0" fill="none" stroke="#0e3a06" stroke-width="0.5" stroke-opacity="1"/>
<polyline points="495.0,288.5 496.0,305.5" fill="none" stroke="#0e3a06" stroke-width="0.5" stroke-opacity="1"/>
<polyline points="530.8,297.0 530.8,314.2" fill="none" stroke="#0e3a06" stroke-width="0.5" stroke-opacity="1"/>
<polyline points="549.0,294.0 550.0,311.8" fill="none" stroke="#0e3a06" stroke-width="0.5" stroke-opacity="1"/>
<polyline points="574.8,283.8 574.8,299.5" fill="none" stroke="#0e3a06" stroke-width="0.5" stroke-opacity="1"/>
<polygon points="615.0,286.7 626.5,290.5 626.5,294.2 615.0,290.4" fill="#3a4a20" stroke="#111" stroke-width="0.6"/>
<polygon points="721.5,329.0 737.5,335.0 737.5,338.5 721.5,332.5" fill="#3a4a20" stroke="#111" stroke-width="0.6"/>
<polygon points="493.0,272.0 516.0,263.5 520.0,267.0 497.0,276.0" fill="#28c814" stroke="#123a08" stroke-width="0.6"/>
<polygon points="497.0,276.0 520.0,267.0 520.0,273.0 497.0,282.0" fill="#22c012" stroke="#123a08" stroke-width="0.6"/>
<polyline points="497.5,276.2 497.5,280.5" fill="none" stroke="#1a3a10" stroke-width="0.7" stroke-opacity="1"/>
<polyline points="499.9,275.3 499.9,279.6" fill="none" stroke="#1a3a10" stroke-width="0.7" stroke-opacity="1"/>
<polyline points="502.3,274.3 502.3,278.6" fill="none" stroke="#1a3a10" stroke-width="0.7" stroke-opacity="1"/>
<polyline points="504.7,273.4 504.7,277.7" fill="none" stroke="#1a3a10" stroke-width="0.7" stroke-opacity="1"/>
<polyline points="507.1,272.5 507.1,276.8" fill="none" stroke="#1a3a10" stroke-width="0.7" stroke-opacity="1"/>
<polyline points="509.5,271.6 509.5,275.9" fill="none" stroke="#1a3a10" stroke-width="0.7" stroke-opacity="1"/>
<polyline points="511.9,270.6 511.9,274.9" fill="none" stroke="#1a3a10" stroke-width="0.7" stroke-opacity="1"/>
<polyline points="514.3,269.7 514.3,274.0" fill="none" stroke="#1a3a10" stroke-width="0.7" stroke-opacity="1"/>
<polyline points="516.7,268.8 516.7,273.1" fill="none" stroke="#1a3a10" stroke-width="0.7" stroke-opacity="1"/>
<polyline points="519.0,272.5 520.2,273.0 521.8,273.8 523.8,274.7 525.9,275.6 528.0,276.4 530.0,277.0 531.9,277.4 533.9,277.8 535.9,278.1 537.9,278.2 539.9,278.2 542.0,278.0 544.1,277.6 546.3,277.1 548.6,276.4 550.8,275.6 552.9,274.6 555.0,273.5 557.1,272.1 559.2,270.4 561.3,268.5 563.2,266.6 564.8,265.1 566.0,264.0" fill="none" stroke="#0e3a06" stroke-width="0.6" stroke-opacity="1"/>
<polyline points="586.0,238.0 599.0,241.0 599.0,247.0" fill="none" stroke="#153a0a" stroke-width="0.7" stroke-opacity="1"/>
<polyline points="586.0,238.0 586.0,245.0" fill="none" stroke="#153a0a" stroke-width="0.7" stroke-opacity="1"/>
<polyline points="586.0,241.0 599.0,244.0" fill="none" stroke="#153a0a" stroke-width="0.6" stroke-opacity="1"/>
<polyline points="696.0,271.0 709.0,274.0 709.0,280.0" fill="none" stroke="#153a0a" stroke-width="0.7" stroke-opacity="1"/>
<polyline points="696.0,271.0 696.0,278.0" fill="none" stroke="#153a0a" stroke-width="0.7" stroke-opacity="1"/>
<polyline points="696.0,274.0 709.0,277.0" fill="none" stroke="#153a0a" stroke-width="0.6" stroke-opacity="1"/>
<polyline points="549.0,226.0 562.0,229.0 562.0,235.0" fill="none" stroke="#153a0a" stroke-width="0.7" stroke-opacity="1"/>
<polyline points="549.0,226.0 549.0,233.0" fill="none" stroke="#153a0a" stroke-width="0.7" stroke-opacity="1"/>
<polyline points="549.0,229.0 562.0,232.0" fill="none" stroke="#153a0a" stroke-width="0.6" stroke-opacity="1"/>
</svg>

<!-- AXIS GIZMO -->
<svg class="a" style="left:0;top:360px" width="60" height="60" viewBox="0 360 60 60">
  <line x1="30.5" y1="391.8" x2="30.5" y2="373" stroke="#25b868" stroke-width="1.4"/>
  <line x1="30.5" y1="391.8" x2="11.3" y2="386.2" stroke="#e0103a" stroke-width="1.4"/>
  <line x1="30.5" y1="391.8" x2="18.3" y2="401" stroke="#f0a000" stroke-width="1.4"/>
  <circle cx="30.5" cy="372.7" r="5.3" fill="#25b868"/>
  <circle cx="11.3" cy="386.2" r="5.3" fill="#e0103a"/>
  <circle cx="18.3" cy="401" r="5.3" fill="#f5ad00"/>
  <circle cx="42.5" cy="383" r="4.1" fill="#c98a00"/>
  <circle cx="49.5" cy="398" r="4.1" fill="#ff1040"/>
  <circle cx="30.5" cy="411.5" r="4.1" fill="#1f8c4a"/>
  <text x="30.5" y="375.6" font-size="7.5" font-weight="bold" text-anchor="middle" fill="#1b1b1b" font-family="Liberation Sans">Z</text>
  <text x="11.3" y="389" font-size="7.5" font-weight="bold" text-anchor="middle" fill="#1b1b1b" font-family="Liberation Sans">X</text>
  <text x="18.3" y="403.8" font-size="7.5" font-weight="bold" text-anchor="middle" fill="#1b1b1b" font-family="Liberation Sans">Y</text>
</svg>

<!-- VIEWER TOOLBAR -->
<div class="vb" style="left:235.2px;width:64.5px"></div>
<svg class="a" style="left:241.8px;top:389.2px" width="11.2" height="6.8" viewBox="0 0 11.2 6.8" fill="none" stroke="#eee" stroke-width="1.3"><rect x="0.65" y="0.65" width="9.9" height="5.5" rx="1.2"/><path d="M3 0.7v2.3M5.1 0.7v2.3M7.2 0.7v2.3M9.1 0.7v2.3" stroke-width="1"/></svg>
<div class="t vt" style="left:256.2px;top:387.5px">Messen</div>

<div class="vb" style="left:306.9px;width:91.3px"></div>
<svg class="a" style="left:314.7px;top:387.1px" width="9" height="10.6" viewBox="0 0 9 10.6" fill="none" stroke="#eee" stroke-width="1.2"><rect x="0.6" y="0.6" width="7.8" height="3.8" rx="1"/><rect x="0.6" y="6.2" width="7.8" height="3.8" rx="1"/></svg>
<div class="t vt" style="left:327.5px;top:387.5px">Objektteilung</div>

<div class="vb" style="left:405.4px;width:97.2px;border-radius:3px 0 0 3px"></div>
<div class="dd" style="left:502.6px;width:24.3px"></div>
<svg class="a" style="left:410.6px;top:386px" width="13" height="13" viewBox="0 0 24 24"><path fill="#eee" d="M9.64 7.64c.23-.5.36-1.05.36-1.64 0-2.21-1.79-4-4-4S2 3.79 2 6s1.79 4 4 4c.59 0 1.14-.13 1.64-.36L10 12l-2.36 2.36C7.14 14.13 6.59 14 6 14c-2.21 0-4 1.79-4 4s1.79 4 4 4 4-1.79 4-4c0-.59-.13-1.14-.36-1.64L12 14l7 7h3v-1L9.64 7.64zM6 8c-1.1 0-2-.89-2-2s.9-2 2-2 2 .89 2 2-.9 2-2 2zm0 12c-1.1 0-2-.89-2-2s.9-2 2-2 2 .89 2 2-.9 2-2 2zm6-7.5c-.28 0-.5-.22-.5-.5s.22-.5.5-.5.5.22.5.5-.22.5-.5.5zM19 3l-6 6 2 2 7-7V3z"/></svg>
<div class="t vt" style="left:426.1px;top:387.5px">Ausschneiden</div>
<svg class="a" style="left:509.3px;top:387.8px" width="10" height="10" viewBox="0 0 10 10"><circle cx="5" cy="5" r="5" fill="#f2f2f2"/><path d="M3 4.2L5 6.2L7 4.2" stroke="#282828" stroke-width="1.3" fill="none"/></svg>

<div class="a" style="left:534.1px;top:384px;width:57.1px;height:19px;background:#fff;border-radius:3px 0 0 3px"></div>
<div class="a" style="left:591.2px;top:384px;width:24.3px;height:19px;background:#fff;border-radius:0 3px 3px 0;border-left:1px solid #ddd"></div>
<svg class="a" style="left:541.3px;top:387.5px" width="9.6" height="9.6" viewBox="0 0 10 10" fill="none" stroke="#222" stroke-width="1.1"><circle cx="5" cy="5" r="4.4"/><path d="M2.9 5.1L4.4 6.6L7.3 3.6"/></svg>
<div class="t vt" style="left:554.8px;top:387.5px;color:#111">Status</div>
<svg class="a" style="left:598px;top:387.8px" width="10" height="10" viewBox="0 0 10 10"><circle cx="5" cy="5" r="5" fill="#111"/><path d="M3 4.2L5 6.2L7 4.2" stroke="#fff" stroke-width="1.3" fill="none"/></svg>

<div class="vb" style="left:623.3px;width:95.8px"></div>
<svg class="a" style="left:630.7px;top:388.2px" width="9" height="9" viewBox="0 0 9 9"><rect x="0" y="0" width="9" height="9" rx="1" fill="#eee"/><path d="M1.5 7.3L3.4 4.8L4.8 6.3L6 5.1L7.5 7.3Z" fill="#2c2c2c"/></svg>
<div class="t vt" style="left:643.5px;top:387.5px">Bildschirmfoto</div>

<div class="vb" style="left:727px;width:101.2px;border-radius:3px 0 0 3px"></div>
<div class="dd" style="left:828.2px;width:23.5px"></div>
<svg class="a" style="left:733.5px;top:387.8px" width="10.5" height="9.3" viewBox="0 0 10.5 9.3"><rect x="2.4" y="0" width="5.8" height="2.3" rx="0.4" fill="#eee"/><rect x="0" y="2.7" width="10.5" height="4.5" rx="1" fill="#eee"/><rect x="2.2" y="5.1" width="6.3" height="4.2" rx="0.4" fill="#eee"/><rect x="3.4" y="5.9" width="3.9" height="2.1" fill="#2c2c2c"/></svg>
<div class="t vt" style="left:747.6px;top:387.5px">Druckvorschau</div>
<svg class="a" style="left:835px;top:387.8px" width="10" height="10" viewBox="0 0 10 10"><circle cx="5" cy="5" r="5" fill="#f2f2f2"/><path d="M3 4.2L5 6.2L7 4.2" stroke="#282828" stroke-width="1.3" fill="none"/></svg>

<div class="vb" style="left:860px;width:93.1px"></div>
<svg class="a" style="left:864px;top:385.5px" width="15" height="14" viewBox="864 385.5 15 14"><rect x="868.5" y="389.1" width="6.6" height="5.8" rx="1.6" fill="#eee"/><circle cx="871.8" cy="392" r="0.95" fill="#2c2c2c"/><path d="M870.9 387.3A5 5 0 0 1 877.2 391.3" stroke="#eee" stroke-width="1.3" fill="none" stroke-linecap="round"/><path d="M866.1 393.1A5.4 5.4 0 0 0 872.2 397.7" stroke="#eee" stroke-width="1.3" fill="none" stroke-linecap="round"/><path d="M871.6 396.2L874.6 397.9L871.8 399.3Z" fill="#eee"/></svg>
<div class="t vt" style="left:880px;top:387.5px">Zurücksetzen</div>

<div class="vb" style="left:960.3px;width:62.9px;border-radius:3px 0 0 3px"></div>
<div class="dd" style="left:1023.2px;width:23.5px"></div>
<svg class="a" style="left:967.4px;top:387.5px" width="10.2" height="10.2" viewBox="0 0 10 10" stroke="#eee" stroke-width="1.2"><path d="M3.3 0v10M6.7 0v10M0 3.3h10M0 6.7h10"/></svg>
<div class="t vt" style="left:980.6px;top:387.5px">Achsen</div>
<svg class="a" style="left:1030px;top:387.8px" width="10" height="10" viewBox="0 0 10 10"><circle cx="5" cy="5" r="5" fill="#f2f2f2"/><path d="M3 4.2L5 6.2L7 4.2" stroke="#282828" stroke-width="1.3" fill="none"/></svg>

<!-- GANTT -->
<div class="a" style="left:0;top:421.8px;width:1222px;height:1.6px;background:#121212"></div>
<div class="a" style="left:0;top:423.5px;width:1222px;height:265px;background:#fefefd"></div>
<div class="a" style="left:339.6px;top:424.4px;width:874.6px;height:19px;background:#e2e1e7"></div>
<div class="t" style="left:340px;top:429.2px;font-size:9.5px;font-weight:bold;color:#222">23</div>
<div class="a" style="left:437.1px;top:464px;width:1px;height:213px;background:#ececf3"></div>
<div class="a" style="left:640.3px;top:464px;width:1px;height:213px;background:#ececf3"></div>
<div class="a" style="left:851.0px;top:464px;width:1px;height:213px;background:#ececf3"></div>
<div class="a" style="left:1060.8px;top:464px;width:1px;height:213px;background:#ececf3"></div>
<div class="a" style="left:0;top:463px;width:1214.2px;height:1px;background:#e4e4ee"></div>
<div class="t ml" style="left:539.2px;top:449px;transform:translateX(-50%)">Juni</div>
<div class="t ml" style="left:746.2px;top:449px;transform:translateX(-50%)">Juli</div>
<div class="t ml" style="left:956.4px;top:449px;transform:translateX(-50%)">August</div>
<div class="t ml" style="left:1164px;top:449px;transform:translateX(-50%)">September</div>
<div class="a" style="left:339.6px;top:450.5px;width:1px;height:6px;background:#aaa"></div>
<div class="t ml" style="left:272.4px;top:446.8px">Soll</div>
<div class="t ml" style="left:314.1px;top:446.8px">Ist</div>
<div class="a" style="left:11.7px;top:475.8px;width:0;height:0;border-left:3.3px solid transparent;border-right:3.3px solid transparent;border-top:3.8px solid #222"></div>
<div class="lbl" style="left:23.3px;top:473.4px;font-weight:bold;color:#222;letter-spacing:-0.2px">Bauabschnitt</div>
<div class="pill ps" style="left:263.4px;top:467.0px">25.09.</div>
<div class="pill po" style="left:302.6px;top:467.0px">25.09.</div>
<div class="bl" style="left:339.6px;top:467.0px;width:874.6px"></div>
<div class="bd" style="left:339.6px;top:477.5px;width:438.0px"></div>
<div class="bs" style="left:777.6px;top:477.5px;width:436.6px"></div>
<div class="a" style="left:20.3px;top:501.6px;width:0;height:0;border-top:2.6px solid transparent;border-bottom:2.6px solid transparent;border-left:3.2px solid #b3b3b3"></div>
<div class="lbl" style="left:30.1px;top:500.3px">Gründung</div>
<div class="pill ps" style="left:263.4px;top:493.9px">07.03.</div>
<div class="pill pf" style="left:302.6px;top:493.9px">08.03.</div>
<div class="a" style="left:20.3px;top:528.5px;width:0;height:0;border-top:2.6px solid transparent;border-bottom:2.6px solid transparent;border-left:3.2px solid #b3b3b3"></div>
<div class="lbl" style="left:30.1px;top:527.2px">Untergeschoss</div>
<div class="pill ps" style="left:263.4px;top:520.8px">02.06.</div>
<div class="pill po" style="left:302.6px;top:520.8px">22.07.</div>
<div class="bl" style="left:339.6px;top:520.8px;width:111.3px"></div>
<div class="bd" style="left:339.6px;top:531.3px;width:118.1px"></div>
<div class="bg" style="left:457.7px;top:531.3px;width:319.9px"></div>
<div class="bs" style="left:777.6px;top:531.3px;width:13.1px;border:1px solid #23b35f"></div>
<div class="pct" style="left:793.3px;top:533.4px;color:#222">99 %</div>
<div class="a" style="left:20.3px;top:555.4px;width:0;height:0;border-top:2.6px solid transparent;border-bottom:2.6px solid transparent;border-left:3.2px solid #b3b3b3"></div>
<div class="lbl" style="left:30.1px;top:554.1px">Decke über Untergeschoss</div>
<div class="pill ps" style="left:263.4px;top:547.7px">07.06.</div>
<div class="pill pf" style="left:302.6px;top:547.7px">08.06.</div>
<div class="bl" style="left:339.6px;top:547.7px;width:145.2px"></div>
<div class="bd" style="left:339.6px;top:558.2px;width:145.2px"></div>
<div class="pct" style="left:488px;top:560.3px;color:#23b35f">100 %</div>
<div class="a" style="left:20.3px;top:582.3px;width:0;height:0;border-top:2.6px solid transparent;border-bottom:2.6px solid transparent;border-left:3.2px solid #b3b3b3"></div>
<div class="lbl" style="left:30.1px;top:581.0px">Verfüllung</div>
<div class="pill ps" style="left:263.4px;top:574.6px">08.06.</div>
<div class="pill po" style="left:302.6px;top:574.6px"></div>
<div class="bl" style="left:339.6px;top:574.6px;width:152.2px"></div>
<div class="a" style="left:20.3px;top:609.2px;width:0;height:0;border-top:2.6px solid transparent;border-bottom:2.6px solid transparent;border-left:3.2px solid #b3b3b3"></div>
<div class="lbl" style="left:30.1px;top:607.9px">Haus1A</div>
<div class="pill ps" style="left:263.4px;top:601.5px">25.09.</div>
<div class="pill po" style="left:302.6px;top:601.5px">26.09.</div>
<div class="bl" style="left:339.6px;top:601.5px;width:874.6px"></div>
<div class="bd" style="left:370px;top:612.0px;width:407.6px"></div>
<div class="bs" style="left:777.6px;top:612.0px;width:436.6px"></div>
<div class="a" style="left:20.3px;top:636.1px;width:0;height:0;border-top:2.6px solid transparent;border-bottom:2.6px solid transparent;border-left:3.2px solid #b3b3b3"></div>
<div class="lbl" style="left:30.1px;top:634.8px">Haus1B</div>
<div class="pill ps" style="left:263.4px;top:628.4px">15.08.</div>
<div class="pill po" style="left:302.6px;top:628.4px">15.08.</div>
<div class="bl" style="left:416.9px;top:628.4px;width:536.7px"></div>
<div class="bd" style="left:424.2px;top:638.9px;width:353.4px"></div>
<div class="bs" style="left:777.6px;top:638.9px;width:176.0px"></div>
<div class="pct" style="left:956.2px;top:641.0px;color:#222">69 %</div>
<div class="pill ps" style="left:263.4px;top:655.3px"></div>
<div class="pill po" style="left:302.6px;top:655.3px"></div>
<div class="bl" style="left:485px;top:655.3px;width:529.4px"></div>
<div class="bd" style="left:512px;top:665.8px;width:265.6px"></div>
<div class="bs" style="left:777.6px;top:665.8px;width:236.8px"></div>
<div class="pct" style="left:1017.4px;top:667.9px;color:#222">56 %</div>
<div class="a" style="left:777.0px;top:464px;width:1.3px;height:214px;background:#f0323c"></div>
<div class="a" style="left:0;top:660px;width:339.6px;height:28px;background:#fefefd"></div>
<div class="a" style="left:339.6px;top:677px;width:874.6px;height:1px;background:#ececf3"></div>
<div class="a" style="left:576px;top:682.3px;width:609.3px;height:4px;border-radius:2px;background:#ababab"></div>
<div class="a" style="left:1216.3px;top:425.6px;width:3.8px;height:229.7px;border-radius:2px;background:#ababab"></div>
<div class="a bb" style="left:30.2px;width:59.8px"></div>
<svg class="a" style="left:36.8px;top:665px" width="10" height="11.2" viewBox="0 0 10 11.2" fill="none" stroke="#333" stroke-width="1.2"><rect x="0.6" y="1.8" width="8.8" height="8.8" rx="1"/><line x1="0.6" y1="4.2" x2="9.4" y2="4.2" stroke-width="1.6"/><line x1="2.6" y1="0" x2="2.6" y2="2.2"/><line x1="7.4" y1="0" x2="7.4" y2="2.2"/><path d="M2.4 6.3h1M4.5 6.3h1M6.6 6.3h1" stroke-width="0.9"/></svg>
<div class="t bt" style="left:49px;top:665.5px;letter-spacing:0.27px">Zeitfilter</div>
<div class="a bb" style="left:93.3px;width:64.4px"></div>
<svg class="a" style="left:99.8px;top:665px" width="10.2" height="11.2" viewBox="0 0 10 11.2" fill="none" stroke="#333" stroke-width="1.2"><rect x="0.6" y="1.8" width="8.8" height="8.8" rx="1"/><line x1="0.6" y1="4.2" x2="9.4" y2="4.2" stroke-width="1.6"/><line x1="2.6" y1="0" x2="2.6" y2="2.2"/><line x1="7.4" y1="0" x2="7.4" y2="2.2"/><path d="M2.8 7.3L4.3 8.7L7.2 5.8" stroke-width="1"/></svg>
<div class="t bt" style="left:112.3px;top:665.5px;letter-spacing:-0.1px">Aufbauen</div>
<div class="a bb" style="left:161.4px;width:13.1px"></div>
<svg class="a" style="left:165.5px;top:666.5px" width="5" height="7.5" viewBox="0 0 5 7.5" fill="none" stroke="#333" stroke-width="1.3"><path d="M4.3 0.5L1 3.75L4.3 7"/></svg>
<div class="a bb" style="left:177.6px;width:115.1px"></div>
<div class="t bt" style="left:183.2px;top:665.5px;letter-spacing:0.09px">17.07.2023 - 23.07.2023</div>
<div class="a bb" style="left:296.3px;width:12.5px"></div>
<svg class="a" style="left:300.4px;top:666.5px" width="5" height="7.5" viewBox="0 0 5 7.5" fill="none" stroke="#333" stroke-width="1.3"><path d="M0.7 0.5L4 3.75L0.7 7"/></svg>
<div class="a" style="left:3px;top:425.6px;width:70px;height:16px;border-radius:3px;background:#ff0022"></div>
<div class="t" style="left:22.8px;top:428.9px;font-size:10px;color:#fff;transform:scaleX(0.87);transform-origin:0 0">HEUTE</div>
<div class="a" style="left:76.7px;top:426.9px;width:181px;height:14.7px;border:1px solid #eceef8;border-radius:3px;background:#fff"></div>
<div class="a" style="left:80.9px;top:433.3px;width:9.1px;height:1.5px;background:#444"></div>
<div class="a" style="left:98.8px;top:433.5px;width:136px;height:1px;background:#555"></div>
<div class="a" style="left:148.6px;top:429.3px;width:9.4px;height:9.4px;border-radius:50%;background:#2b2b2b"></div>
<div class="a" style="left:243.6px;top:433.3px;width:9.9px;height:1.5px;background:#333"></div>
<div class="a" style="left:247.8px;top:429.1px;width:1.5px;height:9.9px;background:#333"></div>
<div class="a" style="left:275.6px;top:425.4px;width:49.1px;height:16.2px;border-radius:3px;background:#23b35f"></div>
<div class="t" style="left:280.5px;top:429.2px;font-size:9.5px;font-weight:bold;color:#fff;transform:scaleX(0.85);transform-origin:0 0">Ende</div>
<div class="a" style="left:311px;top:428px;width:11.2px;height:11.2px;border-radius:3px;background:#f4f4f4"></div>

</body></html>
